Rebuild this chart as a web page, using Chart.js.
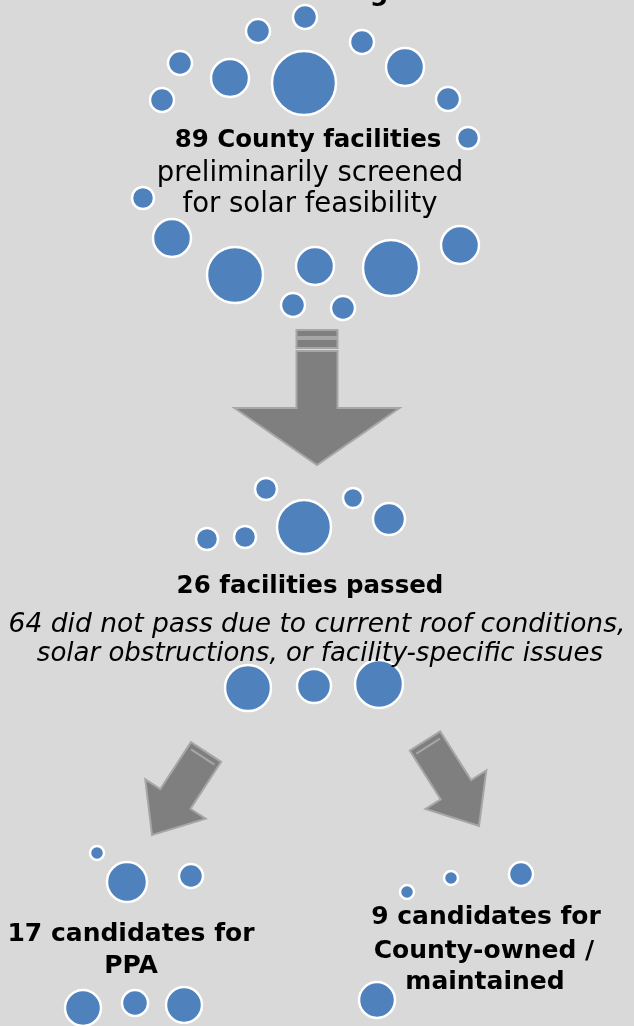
<!DOCTYPE html>
<html>
<head>
<meta charset="utf-8">
<script src="https://cdn.jsdelivr.net/npm/chart.js@4.4.1/dist/chart.umd.min.js"></script>
<style>
  html, body { margin: 0; padding: 0; background: #d9d9d9; }
  #wrap { position: relative; width: 634px; height: 1026px; overflow: hidden; }
  #chart { position: absolute; left: 0; top: 0; }
  .t { position: absolute; white-space: nowrap; transform: translateX(-50%);
       font-family: "DejaVu Sans", sans-serif; font-size: 24px; line-height: 1; color: #000; }
  .b { font-weight: bold; }
  .i { font-style: italic; }
</style>
</head>
<body>
<div id="wrap">
  <canvas id="chart" width="634" height="1026"></canvas>
  <div class="t b" style="left:379px; top:-22px; font-size:26px;">g</div>
  <div class="t b" style="left:308px; top:127px; font-size:24.5px;">89 County facilities</div>
  <div class="t" style="left:310px; top:158px; font-size:27.5px;">preliminarily screened</div>
  <div class="t" style="left:310px; top:189px; font-size:27.5px;">for solar feasibility</div>
  <div class="t b" style="left:310px; top:573px; font-size:24.5px;">26 facilities passed</div>
  <div class="t i" style="left:317px; top:610px; font-size:26.5px;">64 did not pass due to current roof conditions,</div>
  <div class="t i" style="left:320px; top:639px; font-size:26px;">solar obstructions, or facility-specific issues</div>
  <div class="t b" style="left:131px; top:920px; font-size:25px;">17 candidates for</div>
  <div class="t b" style="left:131px; top:952px; font-size:25px;">PPA</div>
  <div class="t b" style="left:486px; top:903px; font-size:25px;">9 candidates for</div>
  <div class="t b" style="left:484px; top:937px; font-size:25px;">County-owned /</div>
  <div class="t b" style="left:485px; top:968px; font-size:25px;">maintained</div>
</div>
<script>
// bubbles, in page units (x right, y down)
const screenedX = [305, 258, 362, 180, 230, 304, 405, 162, 448, 468, 143, 172, 235, 315, 391, 460, 293, 343];
const screenedY = [17, 31, 42, 63, 78, 83, 67, 100, 99, 138, 198, 238, 275, 266, 268, 245, 305, 308];
const screenedR = [12, 12, 12, 12, 19, 32, 19, 12, 12, 11, 11, 19, 28, 19, 28, 19, 12, 12];

const passedX = [266, 353, 304, 389, 207, 245, 248, 314, 379];
const passedY = [489, 498, 527, 519, 539, 537, 688, 686, 684];
const passedR = [11, 10, 27, 16, 11, 11, 23, 17, 24];

const ppaX = [97, 127, 191, 83, 135, 184];
const ppaY = [853, 882, 876, 1008, 1003, 1005];
const ppaR = [7, 20, 12, 18, 13, 18];

const ownedX = [407, 451, 521, 377];
const ownedY = [892, 878, 874, 1000];
const ownedR = [7, 7, 12, 18];

// arrows: tail centre -> tip
const arrowFrom = [[317, 330], [206, 752], [425, 741]];
const arrowTo = [[317, 465], [152, 835], [479, 826]];

function points(xs, ys, rs) {
  return xs.map((x, i) => ({x: x, y: ys[i], r: rs[i]}));
}

const arrowPlugin = {
  id: 'arrows',
  beforeDatasetsDraw(chart) {
    const ctx = chart.ctx;
    const sx = chart.scales.x, sy = chart.scales.y;
    const specs = [
      {shaft: 41, head: 165, headLen: 57, bands: true},
      {shaft: 36, head: 72, headLen: 43, bands: false},
      {shaft: 36, head: 72, headLen: 43, bands: false}
    ];
    arrowFrom.forEach((f, i) => {
      const ax = sx.getPixelForValue(f[0]), ay = sy.getPixelForValue(f[1]);
      const bx = sx.getPixelForValue(arrowTo[i][0]), by = sy.getPixelForValue(arrowTo[i][1]);
      const s = specs[i];
      const len = Math.hypot(bx - ax, by - ay);
      ctx.save();
      ctx.translate(ax, ay);
      ctx.rotate(Math.atan2(by - ay, bx - ax) - Math.PI / 2);
      // local frame: y runs along the arrow from 0 to len
      ctx.fillStyle = '#7f7f7f';
      ctx.strokeStyle = '#a6a6a6';
      ctx.lineWidth = 2;
      const hs = s.shaft / 2, hh = s.head / 2, base = len - s.headLen;
      let start = 0;
      if (s.bands) {
        ctx.fillRect(-hs, 0, s.shaft, 7); ctx.strokeRect(-hs, 0, s.shaft, 7);
        ctx.fillRect(-hs, 9, s.shaft, 9); ctx.strokeRect(-hs, 9, s.shaft, 9);
        start = 21;
      }
      ctx.beginPath();
      ctx.moveTo(-hs, start);
      ctx.lineTo(hs, start);
      ctx.lineTo(hs, base);
      ctx.lineTo(hh, base);
      ctx.lineTo(0, len);
      ctx.lineTo(-hh, base);
      ctx.lineTo(-hs, base);
      ctx.closePath();
      ctx.fill();
      ctx.stroke();
      if (!s.bands) {
        ctx.beginPath();
        ctx.moveTo(-hs + 4, 6);
        ctx.lineTo(hs - 4, 6);
        ctx.stroke();
      }
      ctx.restore();
    });
  }
};

const style = {backgroundColor: '#4f81bd', borderColor: '#ffffff', borderWidth: 2.5, clip: false};

new Chart(document.getElementById('chart'), {
  type: 'bubble',
  data: {
    datasets: [
      Object.assign({label: 'Screened', data: points(screenedX, screenedY, screenedR)}, style),
      Object.assign({label: 'Passed', data: points(passedX, passedY, passedR)}, style),
      Object.assign({label: 'PPA', data: points(ppaX, ppaY, ppaR)}, style),
      Object.assign({label: 'County-owned', data: points(ownedX, ownedY, ownedR)}, style)
    ]
  },
  options: {
    responsive: false,
    animation: false,
    layout: {padding: 0, autoPadding: false},
    plugins: {legend: {display: false}, tooltip: {enabled: false}},
    elements: {point: {hoverRadius: 0}},
    scales: {
      x: {display: false, min: 0, max: 634},
      y: {display: false, min: 0, max: 1026, reverse: true}
    }
  },
  plugins: [arrowPlugin]
});
</script>
</body>
</html>
